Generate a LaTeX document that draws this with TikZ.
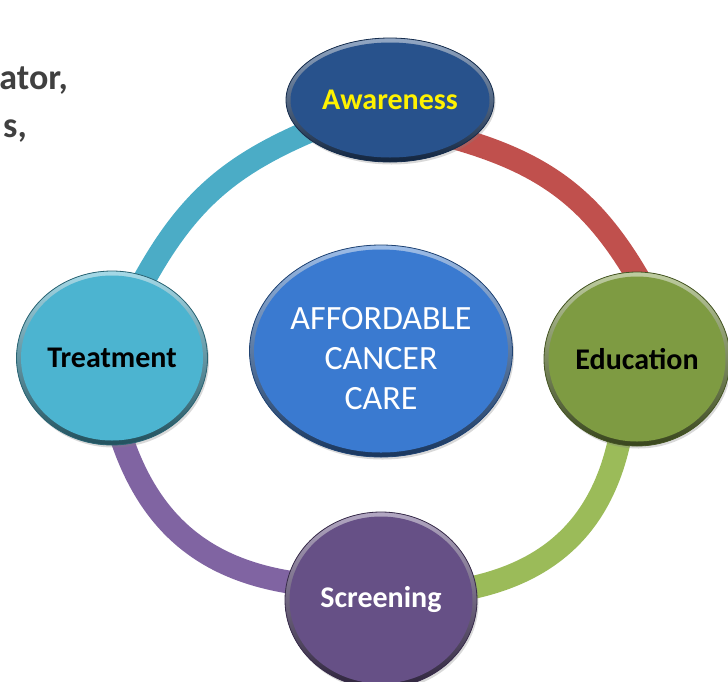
\documentclass[tikz,border=0pt]{standalone}
\usepackage{fontspec}
\setmainfont{Carlito}
\usetikzlibrary{shapes.geometric,backgrounds,shadows,calc}
\definecolor{awc}{RGB}{40,82,140}
\definecolor{cec}{RGB}{58,122,208}
\definecolor{edc}{RGB}{126,155,66}
\definecolor{trc}{RGB}{76,180,208}
\definecolor{scc}{RGB}{102,80,134}
\definecolor{rteal}{RGB}{75,172,198}
\definecolor{rred}{RGB}{192,80,77}
\definecolor{rgreen}{RGB}{155,187,89}
\definecolor{rpurple}{RGB}{128,100,162}
\definecolor{txtgray}{RGB}{64,64,64}
\tikzset{
  bubble/.style={ellipse, inner sep=0pt, draw=#1!55!black, line width=0.8pt, fill=#1,
    drop shadow={opacity=0.3,shadow xshift=1.5pt,shadow yshift=-2.5pt},
    path picture={
      \path[top color=#1!50!white, bottom color=#1!45!black]
        (path picture bounding box.south west) rectangle (path picture bounding box.north east);
      \fill[#1] let \p1=(path picture bounding box.south west), \p2=(path picture bounding box.north east) in
        (path picture bounding box.center) ellipse [x radius={(\x2-\x1)/2-4.5pt}, y radius={(\y2-\y1)/2-4.5pt}];
    }},
  lbl/.style={font=\fontsize{30}{32}\selectfont\bfseries},
  ringarc/.style={line width=23pt, shorten <=-18pt, shorten >=-18pt},
  sidetext/.style={anchor=base east, inner sep=0pt, text=txtgray, font=\fontsize{36}{40}\selectfont\bfseries}
}
\begin{document}
\begin{tikzpicture}[x=1pt,y=-1pt]
\useasboundingbox (0,0) rectangle (728,681);
\clip (0,0) rectangle (728,681);
\node[sidetext] (t1) at (68,89) {ator,};
\node[sidetext] (t2) at (27,137) {s,};
\node[bubble=awc, minimum width=208pt, minimum height=124pt, text=yellow, lbl] (aw) at (390,100) {Awareness};
\node[bubble=edc, minimum width=186pt, minimum height=174pt, text=black, lbl] (ed) at (637,359) {Education};
\node[bubble=scc, minimum width=192pt, minimum height=176pt, text=white, lbl] (sc) at (381,600) {Screening};
\node[bubble=trc, minimum width=191pt, minimum height=174pt, text=black, lbl] (tr) at (112,358) {Treatment};
\node[bubble=cec, minimum width=263pt, minimum height=212pt, text=white, font=\fontsize{34}{40}\selectfont] (ce) at (381,351)
  {\raisebox{-10pt}[\height][\depth]{\begin{tabular}{@{}c@{}}AFFORDABLE\\CANCER\\CARE\end{tabular}}};
\begin{scope}[on background layer]
\draw[ringarc, rteal] ($(tr.center)+(33,-80)$) to[bend left=20] ($(aw.center)+(-85,33)$);
\draw[ringarc, rred] ($(aw.center)+(76,41)$) to[bend left=23] ($(ed.center)+(1,-82)$);
\draw[ringarc, rgreen] ($(ed.center)+(-17,81)$) to[bend left=36] ($(sc.center)+(92,-12)$);
\draw[ringarc, rpurple] ($(sc.center)+(-89,-17)$) to[bend left=34] ($(tr.center)+(10,83)$);
\end{scope}
\end{tikzpicture}
\end{document}
